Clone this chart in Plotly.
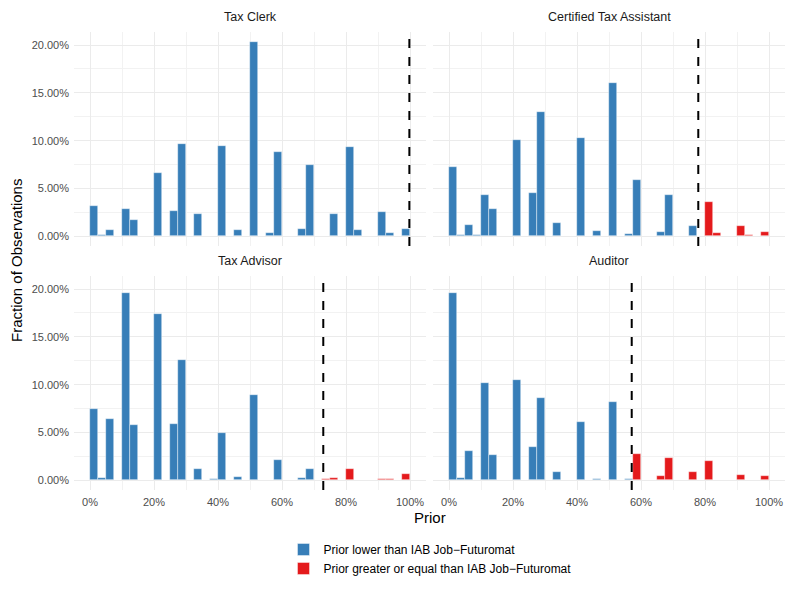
import plotly.graph_objects as go

# histogram bins: width 2.5 on the prior (0-100), values = fraction of observations in %
BIN_W = 2.5

clerk_blue_start = [0, 2.5, 5, 10, 12.5, 20, 25, 27.5, 32.5, 35, 40, 45, 50, 55, 57.5,
                    65, 67.5, 75, 80, 82.5, 90, 92.5, 97.5]
clerk_blue_frac = [3.18, 0.17, 0.70, 2.86, 1.68, 6.63, 2.69, 9.63, 2.37, 0.07, 9.46, 0.63,
                   20.35, 0.38, 8.83, 0.77, 7.43, 2.37, 9.39, 0.70, 2.55, 0.31, 0.77]
clerk_red_start = []
clerk_red_frac = []
clerk_cut = 99.8

cta_blue_start = [0, 2.5, 5, 7.5, 10, 12.5, 20, 25, 27.5, 32.5, 40, 45, 50, 55, 57.5,
                  65, 67.5, 75]
cta_blue_frac = [7.29, 0.10, 1.22, 0.17, 4.36, 2.83, 10.05, 4.50, 12.95, 1.40, 10.23, 0.52,
                 16.06, 0.28, 5.86, 0.45, 4.29, 1.05]
cta_red_start = [80, 82.5, 90, 92.5, 97.5]
cta_red_frac = [3.60, 0.35, 1.05, 0.10, 0.42]
cta_cut = 77.9

adv_blue_start = [0, 2.5, 5, 10, 12.5, 20, 25, 27.5, 32.5, 37.5, 40, 45, 50, 57.5, 65, 67.5]
adv_blue_frac = [7.44, 0.28, 6.37, 19.55, 5.81, 17.36, 5.88, 12.59, 1.15, 0.10, 4.90, 0.38,
                 8.94, 2.16, 0.21, 1.18]
adv_red_start = [72.5, 75, 80, 90, 92.5, 97.5]
adv_red_frac = [0.10, 0.28, 1.18, 0.17, 0.10, 0.63]
adv_cut = 72.9

aud_blue_start = [0, 2.5, 5, 10, 12.5, 20, 25, 27.5, 32.5, 40, 45, 50, 55]
aud_blue_frac = [19.62, 0.24, 3.10, 10.16, 2.61, 10.54, 3.51, 8.59, 0.90, 6.09, 0.17, 8.14, 0.10]
aud_red_start = [57.5, 65, 67.5, 75, 80, 90, 97.5]
aud_red_frac = [2.75, 0.42, 2.30, 0.90, 2.02, 0.59, 0.42]
aud_cut = 57.1

facet_titles = ["Tax Clerk", "Certified Tax Assistant", "Tax Advisor", "Auditor"]
legend_names = ["Prior lower than IAB Job\u2212Futuromat",
                "Prior greater or equal than IAB Job\u2212Futuromat"]

BLUE = "#377EB8"
RED = "#E41A1C"
FONT = "Liberation Sans, Arial, sans-serif"
# page body has an 8px margin, so the figure is 16px smaller than the window
OFF = 8
W, H = 793 - 2 * OFF, 595 - 2 * OFF


def px_x(p):
    return (p - OFF) / W


def px_y(p):
    return 1 - (p - OFF) / H


# panel pixel boxes in window coords (left, right, top, bottom)
panels = [(74, 426, 32, 246), (433, 785, 32, 246), (74, 426, 276, 490), (433, 785, 276, 490)]

facets = [
    (clerk_blue_start, clerk_blue_frac, clerk_red_start, clerk_red_frac, clerk_cut),
    (cta_blue_start, cta_blue_frac, cta_red_start, cta_red_frac, cta_cut),
    (adv_blue_start, adv_blue_frac, adv_red_start, adv_red_frac, adv_cut),
    (aud_blue_start, aud_blue_frac, aud_red_start, aud_red_frac, aud_cut),
]

fig = go.Figure()
shown = set()
for i, (bs, bf, rs, rf, cut) in enumerate(facets):
    xa = "x" if i == 0 else f"x{i+1}"
    ya = "y" if i == 0 else f"y{i+1}"
    for starts, fr, col, name in [(bs, bf, BLUE, legend_names[0]), (rs, rf, RED, legend_names[1])]:
        if not starts:
            continue
        fig.add_trace(go.Bar(
            x=[s + BIN_W / 2 for s in starts], y=fr, width=BIN_W,
            marker=dict(color=col, line=dict(color="rgba(255,255,255,0.7)", width=0.6)),
            name=name, legendgroup=name, showlegend=name not in shown,
            xaxis=xa, yaxis=ya))
        shown.add(name)
    fig.add_shape(type="line", x0=cut, x1=cut, y0=0, y1=1, xref=xa, yref=f"{ya} domain",
                  line=dict(color="black", width=2, dash="dash"))

    l, r, t, b = panels[i]
    axis_common = dict(showline=False, zeroline=False, gridcolor="#EBEBEB", gridwidth=1.1,
                       tickfont=dict(family=FONT, size=11, color="#4D4D4D"), ticks="",
                       ticklabelstandoff=4)
    xkey = "xaxis" if i == 0 else f"xaxis{i+1}"
    ykey = "yaxis" if i == 0 else f"yaxis{i+1}"
    fig.update_layout({
        xkey: dict(axis_common, domain=[px_x(l), px_x(r)], range=[-5, 105], anchor=ya,
                   tick0=0, dtick=20, ticksuffix="%", showticklabels=i >= 2,
                   minor=dict(dtick=10, tick0=0, showgrid=True, gridcolor="#F2F2F2", gridwidth=0.6)),
        ykey: dict(axis_common, domain=[px_y(b), px_y(t)], range=[-1.02, 21.37], anchor=xa,
                   tick0=0, dtick=5, tickformat=".2f", ticksuffix="%", showticklabels=i % 2 == 0,
                   minor=dict(dtick=2.5, tick0=0, showgrid=True, gridcolor="#F2F2F2", gridwidth=0.6)),
    })
    fig.add_annotation(text=facet_titles[i], x=px_x((l + r) / 2), y=px_y(t - 15),
                       xref="paper", yref="paper", showarrow=False,
                       xanchor="center", yanchor="middle",
                       font=dict(family=FONT, size=12.5, color="#1A1A1A"))

fig.add_annotation(text="Prior", x=px_x((74 + 785) / 2), y=px_y(517), xref="paper", yref="paper",
                   showarrow=False, xanchor="center", yanchor="middle",
                   font=dict(family=FONT, size=15, color="black"))
fig.add_annotation(text="Fraction of Observations", x=px_x(16), y=px_y(261), xref="paper",
                   yref="paper", showarrow=False, textangle=-90,
                   xanchor="center", yanchor="middle", borderpad=0,
                   font=dict(family=FONT, size=15, color="black"))

fig.update_layout(
    width=W, height=H, barmode="overlay", bargap=0,
    paper_bgcolor="white", plot_bgcolor="white",
    margin=dict(l=0, r=0, t=0, b=0),
    font=dict(family=FONT),
    legend=dict(orientation="v", x=px_x(430), xanchor="center", y=px_y(535), yanchor="top",
                font=dict(family=FONT, size=12, color="black"), tracegroupgap=0,
                itemwidth=30, bgcolor="rgba(0,0,0,0)"),
)

fig.write_html("out.html")
